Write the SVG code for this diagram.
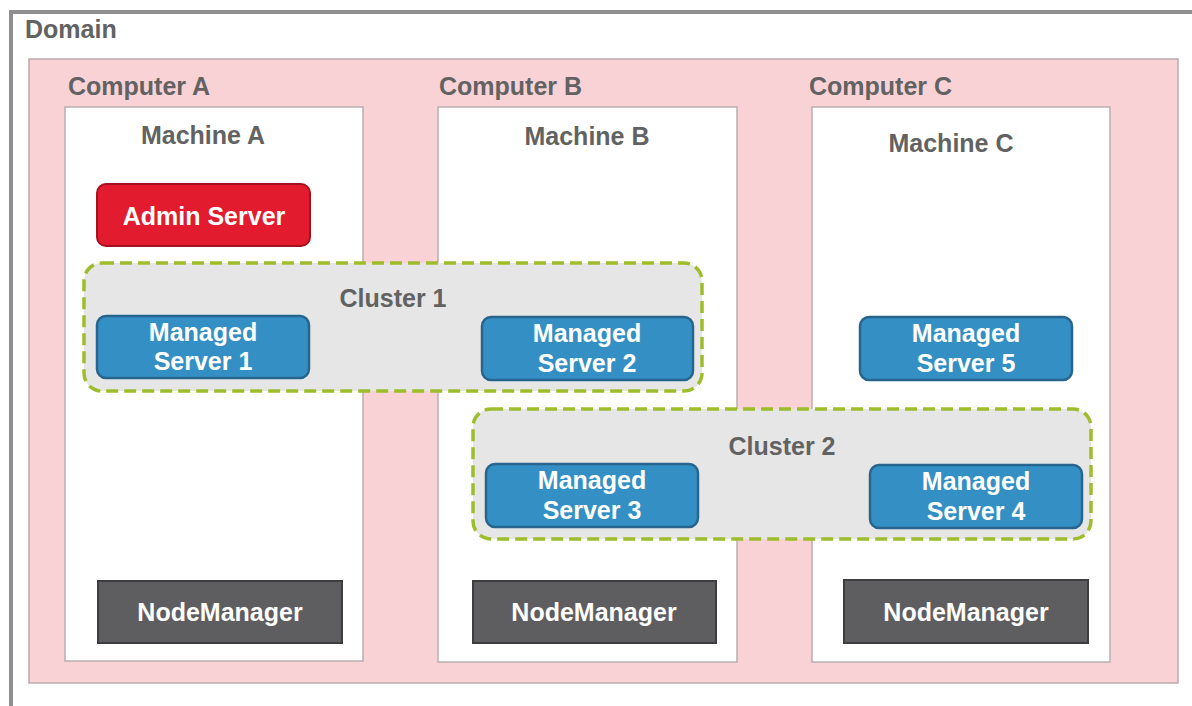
<svg xmlns="http://www.w3.org/2000/svg" width="1192" height="706" viewBox="0 0 1192 706">
<style>
.lbl{font-family:"Liberation Sans",Arial,sans-serif;font-weight:bold;font-size:25px;fill:#626262}
.wt{font-family:"Liberation Sans",Arial,sans-serif;font-weight:bold;font-size:25px;fill:#ffffff;text-anchor:middle}
.machine{fill:#ffffff;stroke:#b9aeb0;stroke-width:1.5}
.ms{fill:#3490c4;stroke:#27658c;stroke-width:2.5}
.nm{fill:#5e5e61;stroke:#3d3d3f;stroke-width:2}
.cluster{fill:#e6e6e6;stroke:#9dbd2a;stroke-width:3.5;stroke-dasharray:12 6}
</style>
<rect width="1192" height="706" fill="#ffffff"/>
<g id="domain">
<path d="M11 706 V12 H1192" fill="none" stroke="#8f8f8f" stroke-width="4"/>
<text class="lbl" x="25" y="38">Domain</text>
<rect x="29" y="59" width="1149" height="624" fill="#f9d2d6" stroke="#bcaaae" stroke-width="1.5"/>
</g>
<g id="computerA">
<text class="lbl" x="68" y="95">Computer A</text>
<rect class="machine" x="65" y="107" width="298" height="554"/>
<text class="lbl" x="203" y="144" text-anchor="middle">Machine A</text>
</g>
<g id="computerB">
<text class="lbl" x="439" y="95">Computer B</text>
<rect class="machine" x="438" y="107" width="299" height="555"/>
<text class="lbl" x="587" y="145" text-anchor="middle">Machine B</text>
</g>
<g id="computerC">
<text class="lbl" x="809" y="95">Computer C</text>
<rect class="machine" x="812" y="107" width="298" height="555"/>
<text class="lbl" x="951" y="152" text-anchor="middle">Machine C</text>
</g>
<g id="admin">
<rect x="97" y="184" width="213" height="62" rx="9" fill="#e31b2e" stroke="#a5121f" stroke-width="2"/>
<text class="wt" x="204" y="225">Admin Server</text>
</g>
<g id="cluster1">
<rect class="cluster" x="84" y="263" width="618" height="128" rx="18"/>
<text class="lbl" x="393" y="307" text-anchor="middle">Cluster 1</text>
</g>
<g id="cluster2">
<rect class="cluster" x="473" y="409" width="618" height="130" rx="18"/>
<text class="lbl" x="782" y="455" text-anchor="middle">Cluster 2</text>
</g>
<g id="ms1">
<rect class="ms" x="97" y="316" width="212" height="62" rx="9"/>
<text class="wt" x="203" y="341">Managed</text>
<text class="wt" x="203" y="370">Server 1</text>
</g>
<g id="ms2">
<rect class="ms" x="482" y="317" width="211" height="63" rx="9"/>
<text class="wt" x="587" y="342">Managed</text>
<text class="wt" x="587" y="372">Server 2</text>
</g>
<g id="ms5">
<rect class="ms" x="860" y="317" width="212" height="63" rx="9"/>
<text class="wt" x="966" y="342">Managed</text>
<text class="wt" x="966" y="372">Server 5</text>
</g>
<g id="ms3">
<rect class="ms" x="486" y="464" width="212" height="63" rx="9"/>
<text class="wt" x="592" y="489">Managed</text>
<text class="wt" x="592" y="519">Server 3</text>
</g>
<g id="ms4">
<rect class="ms" x="870" y="465" width="212" height="63" rx="9"/>
<text class="wt" x="976" y="490">Managed</text>
<text class="wt" x="976" y="520">Server 4</text>
</g>
<g id="nmA">
<rect class="nm" x="98" y="581" width="244" height="62"/>
<text class="wt" x="220" y="621">NodeManager</text>
</g>
<g id="nmB">
<rect class="nm" x="473" y="581" width="243" height="62"/>
<text class="wt" x="594" y="621">NodeManager</text>
</g>
<g id="nmC">
<rect class="nm" x="844" y="580" width="244" height="63"/>
<text class="wt" x="966" y="621">NodeManager</text>
</g>
<g id="connectors"></g>
</svg>
